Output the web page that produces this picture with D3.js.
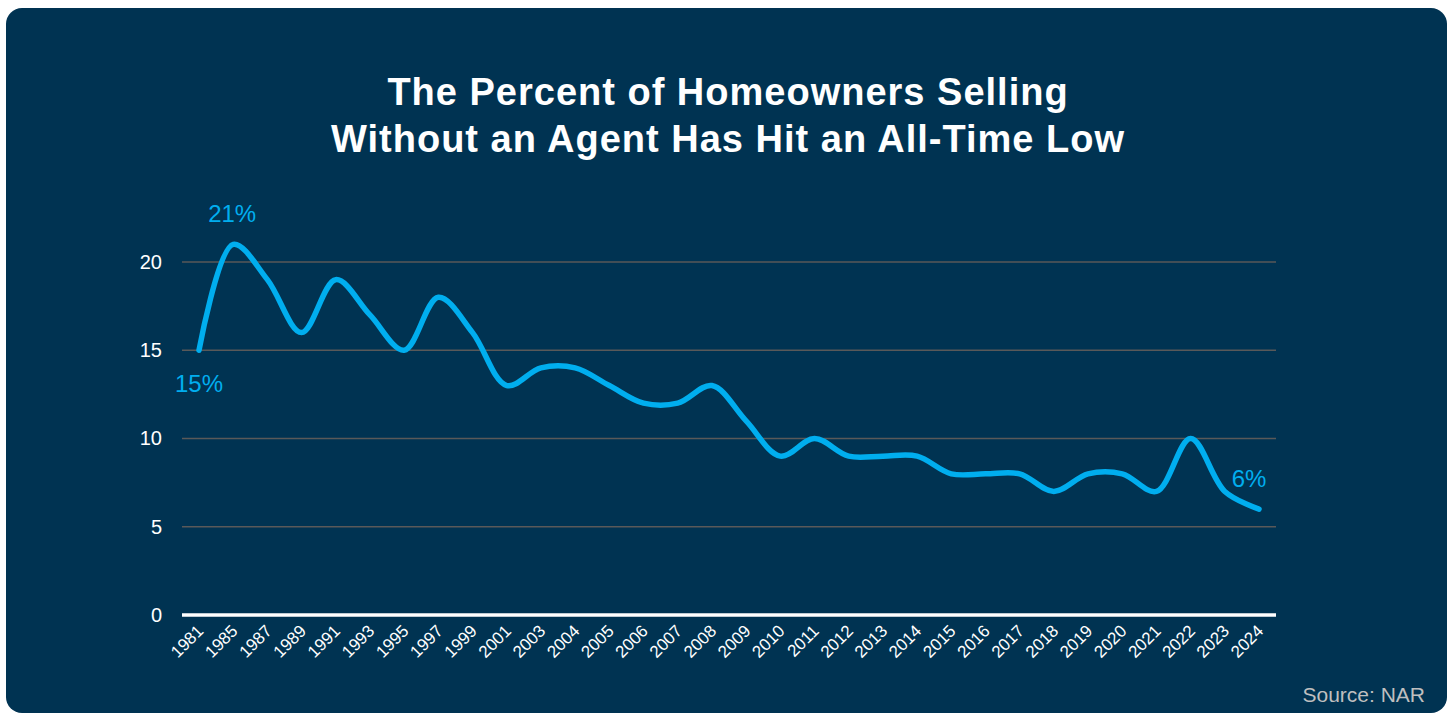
<!DOCTYPE html>
<html>
<head>
<meta charset="utf-8">
<script src="https://cdn.jsdelivr.net/npm/d3@7"></script>
<style>
  body { margin: 0; background: #ffffff; }
  svg { display: block; font-family: "Liberation Sans", Arial, sans-serif; }
</style>
</head>
<body>
<svg id="chart"></svg>
<script>
const years = ["1981","1985","1987","1989","1991","1993","1995","1997","1999","2001","2003","2004","2005","2006","2007","2008","2009","2010","2011","2012","2013","2014","2015","2016","2017","2018","2019","2020","2021","2022","2023","2024"];
const values = [15,21,19,16,19,17,15,18,16,13,14,14,13,12,12,13,11,9,10,9,9,9,8,8,8,7,8,8,7,10,7,6];
const yTicks = [0, 5, 10, 15, 20];
const labels = [
    { year: "1981", text: "15%", dx: 0, dy: 42 },
    { year: "1985", text: "21%", dx: -1, dy: -22 },
    { year: "2024", text: "6%", dx: -10, dy: -22 }
];

const W = 1453, H = 715;
const margin = { top: 200, right: 177, bottom: 100, left: 182 };
const innerW = W - margin.left - margin.right;
const innerH = H - margin.top - margin.bottom;

const svg = d3.select("#chart")
    .attr("width", W)
    .attr("height", H);

// panel
svg.append("rect")
    .attr("x", 6).attr("y", 8)
    .attr("width", 1441).attr("height", 705)
    .attr("rx", 16)
    .attr("fill", "#003352");

// title
const title = svg.append("text")
    .attr("x", 728)
    .attr("text-anchor", "middle")
    .attr("fill", "#ffffff")
    .attr("font-size", 38)
    .attr("letter-spacing", 1)
    .attr("font-weight", "bold");
title.append("tspan").attr("x", 728).attr("y", 105).text("The Percent of Homeowners Selling");
title.append("tspan").attr("x", 728).attr("y", 152).text("Without an Agent Has Hit an All-Time Low");

const g = svg.append("g")
    .attr("transform", `translate(${margin.left},${margin.top})`);

const x = d3.scalePoint()
    .domain(years)
    .range([17, innerW - 17]);

const y = d3.scaleLinear()
    .domain([0, 20])
    .range([415, 62]);

// grid
g.append("g")
    .selectAll("line")
    .data(yTicks.filter(d => d > 0))
    .join("line")
    .attr("x1", 0).attr("x2", innerW)
    .attr("y1", d => y(d)).attr("y2", d => y(d))
    .attr("stroke", "#595959")
    .attr("stroke-width", 1.5);

// baseline
g.append("line")
    .attr("x1", 0).attr("x2", innerW)
    .attr("y1", y(0)).attr("y2", y(0))
    .attr("stroke", "#ffffff")
    .attr("stroke-width", 3.5);

// y axis
const yAxis = g.append("g")
    .call(d3.axisLeft(y).tickValues(yTicks).tickSize(0).tickPadding(20));
yAxis.select(".domain").remove();
yAxis.selectAll("text")
    .attr("fill", "#ffffff")
    .attr("font-size", 20)
    .attr("font-family", "Liberation Sans, Arial, sans-serif");

// x axis
const xAxis = g.append("g")
    .attr("transform", `translate(0,${y(0)})`)
    .call(d3.axisBottom(x).tickSize(0).tickPadding(0));
xAxis.select(".domain").remove();
xAxis.selectAll("text")
    .attr("fill", "#ffffff")
    .attr("font-size", 17)
    .attr("font-family", "Liberation Sans, Arial, sans-serif")
    .attr("text-anchor", "end")
    .attr("dy", 0)
    .attr("transform", "translate(5,17) rotate(-45)");

// line
const line = d3.line()
    .x((d, i) => x(years[i]))
    .y(d => y(d))
    .curve(d3.curveCatmullRom.alpha(0.5));

g.append("path")
    .datum(values)
    .attr("fill", "none")
    .attr("stroke", "#00aeef")
    .attr("stroke-width", 5.5)
    .attr("stroke-linecap", "round")
    .attr("stroke-linejoin", "round")
    .attr("d", line);

// data labels
g.selectAll(".dlabel")
    .data(labels)
    .join("text")
    .attr("class", "dlabel")
    .attr("x", d => x(d.year) + d.dx)
    .attr("y", d => y(values[years.indexOf(d.year)]) + d.dy)
    .attr("text-anchor", "middle")
    .attr("fill", "#00aeef")
    .attr("font-size", 24)
    .text(d => d.text);

// source
svg.append("text")
    .attr("x", 1425).attr("y", 702)
    .attr("text-anchor", "end")
    .attr("fill", "#bfbfbf")
    .attr("font-size", 21)
    .text("Source: NAR");
</script>
</body>
</html>
